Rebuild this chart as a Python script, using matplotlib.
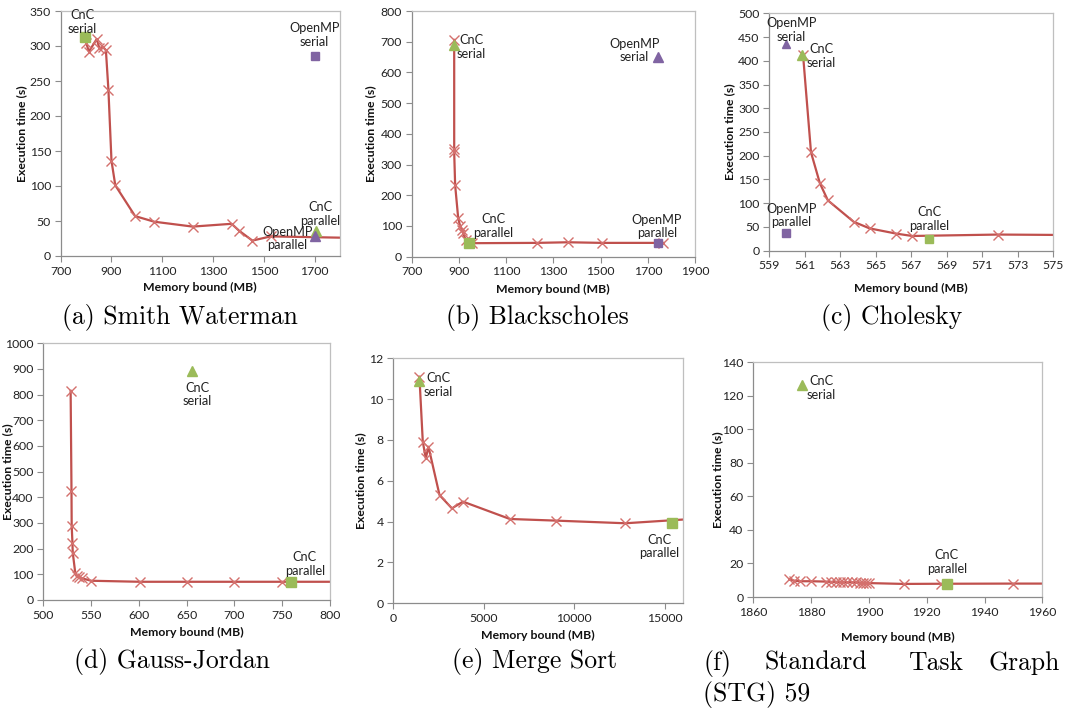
import matplotlib
matplotlib.use('Agg')
import matplotlib.pyplot as plt

# (a) Smith Waterman
sw_mem = [800, 811, 842, 852, 868, 878, 888, 900, 915, 993, 1068, 1220, 1373, 1403, 1455, 1527, 1830]
sw_time = [305, 292, 310, 297, 298, 294, 237, 136, 101, 57, 49, 42, 46, 36, 22, 28, 26]
sw_cnc_serial = (796, 313)
sw_cnc_parallel = (1706, 36)
sw_omp_serial = (1700, 286)
sw_omp_parallel = (1700, 29)

# (b) Blackscholes
bs_mem = [880, 880, 880, 884, 897, 905, 912, 918, 928, 955, 1229, 1363, 1505, 1766]
bs_time = [706, 350, 340, 233, 125, 100, 88, 76, 56, 44, 45, 47, 45, 45]
bs_cnc_serial = (881, 689)
bs_cnc_parallel = (943, 44)
bs_omp_serial = (1745, 649)
bs_omp_parallel = (1742, 43)

# (c) Cholesky
ch_mem = [560.9, 561.35, 561.85, 562.3, 563.75, 564.65, 566.15, 567.05, 571.9, 576]
ch_time = [413, 207, 142, 106, 61, 47, 36, 31, 34, 33]
ch_cnc_serial = (560.86, 412)
ch_cnc_parallel = (568.0, 25)
ch_omp_serial = (559.96, 435)
ch_omp_parallel = (559.96, 38)

# (d) Gauss-Jordan
gj_mem = [528.6, 529.5, 529.7, 530.5, 530.8, 533.5, 535, 537, 541, 550, 601, 650, 700, 750, 810]
gj_time = [815, 425, 290, 222, 185, 104, 92, 88, 84, 75, 71, 71, 71, 71, 71]
gj_cnc_serial = (656, 894)
gj_cnc_parallel = (759, 71)

# (e) Merge Sort
ms_mem = [1444, 1630, 1796, 1944, 2556, 3241, 3852, 6444, 8981, 12833, 16500]
ms_time = [11.1, 7.92, 7.1, 7.67, 5.3, 4.65, 4.98, 4.13, 4.05, 3.92, 4.13]
ms_cnc_serial = (1444, 10.9)
ms_cnc_parallel = (15407, 3.92)

# (f) STG 59
stg_mem = [1872.5, 1874, 1876, 1880, 1885, 1887, 1888.5, 1890, 1891, 1892.5, 1894,
           1895.5, 1897, 1898, 1899, 1900, 1912, 1925, 1950, 1965]
stg_time = [10.5, 9.8, 9.4, 9.4, 9.2, 9.0, 9.1, 9.0, 8.9, 8.8, 8.8,
            8.7, 8.6, 8.5, 8.4, 8.3, 7.8, 7.9, 8.0, 8.0]
stg_cnc_serial = (1877, 126.5)
stg_cnc_parallel = (1927, 7.8)

W, H = 1065, 709
SANS = ['Lato', 'DejaVu Sans']
RED, XRED = '#C0504D', '#D4706D'
GREEN, PURPLE = '#9BBB59', '#8064A2'

fig = plt.figure(figsize=(W / 100, H / 100), dpi=100)


def panel(box, mem, time, xlim, xticks, ylim, yticks, ylab_dx, xlab_dy):
    l, r, t, b = box
    ax = fig.add_axes([l / W, 1 - b / H, (r - l) / W, (b - t) / H])
    ax.plot(mem, time, color=RED, lw=1.6, marker='x', ms=7, mew=1.0,
            mec=XRED, zorder=2)
    ax.set_xlim(*xlim)
    ax.set_ylim(*ylim)
    ax.set_xticks(xticks)
    ax.set_yticks(yticks)
    for s in ax.spines.values():
        s.set_color('#BFBFBF')
        s.set_linewidth(0.9)
    ax.spines['left'].set_color('#8C8C8C')
    ax.spines['bottom'].set_color('#8C8C8C')
    ax.tick_params(direction='out', length=4, width=0.8, color='#8C8C8C',
                   labelsize=8.8, labelcolor='#222222', pad=3)
    for lab in ax.get_xticklabels() + ax.get_yticklabels():
        lab.set_family(SANS)
    ax.set_ylabel('Execution time (s)', family=SANS, fontsize=8.8,
                  fontweight='bold', color='#111111')
    ax.set_xlabel('Memory bound (MB)', family=SANS, fontsize=8.8,
                  fontweight='bold', color='#111111')
    ax.yaxis.set_label_coords(-ylab_dx / (r - l), 0.5)
    ax.xaxis.set_label_coords(0.5, -xlab_dy / (b - t))
    return ax


def point(ax, pt, marker, color, size):
    ax.plot([pt[0]], [pt[1]], marker=marker, color=color, ms=size,
            ls='none', zorder=3, clip_on=False)


def tag(ax, pt, text, dx, dy):
    ax.annotate(text, pt, xytext=(dx, dy), textcoords='offset pixels',
                ha='center', va='center', family=SANS, fontsize=9.2,
                linespacing=1.15, color='#222222')


# (a)
ax = panel((60.7, 340, 11, 256), sw_mem, sw_time, (700, 1800),
           range(700, 1701, 200), (0, 350), range(0, 351, 50), 34, 26)
point(ax, sw_cnc_serial, 's', GREEN, 7)
point(ax, sw_omp_serial, 's', PURPLE, 6)
point(ax, sw_cnc_parallel, '^', GREEN, 7)
point(ax, sw_omp_parallel, '^', PURPLE, 7)
tag(ax, sw_cnc_serial, 'CnC\nserial', -3, 15)
tag(ax, sw_omp_serial, 'OpenMP\nserial', 0, 21)
tag(ax, sw_cnc_parallel, 'CnC\nparallel', 4, 17)
tag(ax, sw_omp_parallel, 'OpenMP\nparallel', -27, -3)

# (b)
ax = panel((411.7, 695, 11, 256.7), bs_mem, bs_time, (700, 1900),
           range(700, 1901, 200), (0, 800), range(0, 801, 100), 36, 27)
point(ax, bs_cnc_serial, '^', GREEN, 7)
point(ax, bs_cnc_parallel, 's', GREEN, 7)
point(ax, bs_omp_serial, '^', PURPLE, 7)
point(ax, bs_omp_parallel, 's', PURPLE, 6)
tag(ax, bs_cnc_serial, 'CnC\nserial', 17, -2)
tag(ax, bs_cnc_parallel, 'CnC\nparallel', 24, 17)
tag(ax, bs_omp_serial, 'OpenMP\nserial', -24, 7)
tag(ax, bs_omp_parallel, 'OpenMP\nparallel', -1, 17)

# (c)
ax = panel((769.3, 1053.3, 13.3, 250.7), ch_mem, ch_time, (559, 575),
           range(559, 576, 2), (0, 500), range(0, 501, 50), 34, 32)
point(ax, ch_omp_serial, '^', PURPLE, 6)
point(ax, ch_cnc_serial, '^', GREEN, 7)
point(ax, ch_omp_parallel, 's', PURPLE, 6)
point(ax, ch_cnc_parallel, 's', GREEN, 6)
tag(ax, ch_omp_serial, 'OpenMP\nserial', 5, 14)
tag(ax, ch_cnc_serial, 'CnC\nserial', 19, -1)
tag(ax, ch_omp_parallel, 'OpenMP\nparallel', 5, 17)
tag(ax, ch_cnc_parallel, 'CnC\nparallel', 0, 20)

# (d)
ax = panel((43.3, 330, 343.3, 600), gj_mem, gj_time, (500, 800),
           range(500, 801, 50), (0, 1000), range(0, 1001, 100), 30, 27)
point(ax, gj_cnc_serial, '^', GREEN, 7)
point(ax, gj_cnc_parallel, 's', GREEN, 7)
tag(ax, gj_cnc_serial, 'CnC\nserial', 5, -24)
tag(ax, gj_cnc_parallel, 'CnC\nparallel', 14, 18)

# (e)
ax = panel((393.3, 682.7, 358.3, 603.3), ms_mem, ms_time, (0, 16000),
           range(0, 15001, 5000), (0, 12), range(0, 13, 2), 27, 27)
point(ax, ms_cnc_serial, '^', GREEN, 7)
point(ax, ms_cnc_parallel, 's', GREEN, 7)
tag(ax, ms_cnc_serial, 'CnC\nserial', 19, -4)
tag(ax, ms_cnc_parallel, 'CnC\nparallel', -13, -23)

# (f)
ax = panel((753.3, 1042.3, 362.3, 597), stg_mem, stg_time, (1860, 1960),
           range(1860, 1961, 20), (0, 140), range(0, 141, 20), 30, 35)
point(ax, stg_cnc_serial, '^', GREEN, 7)
point(ax, stg_cnc_parallel, 's', GREEN, 7)
tag(ax, stg_cnc_serial, 'CnC\nserial', 19, -3)
tag(ax, stg_cnc_parallel, 'CnC\nparallel', 0, 22)

# sub-figure captions
cap = dict(family='cmr10', fontsize=18.5, color='black', va='baseline')
for x, y, s in [(180, 324, '(a) Smith Waterman'), (537, 324, '(b) Blackscholes'),
                (892, 324, '(c) Cholesky'), (172, 668, '(d) Gauss-Jordan'),
                (535, 668, '(e) Merge Sort')]:
    fig.text(x / W, 1 - y / H, s, ha='center', **cap)
for x, s, ha in [(703, '(f)', 'left'), (765, 'Standard', 'left'),
                 (908, 'Task', 'left'), (1060, 'Graph', 'right')]:
    fig.text(x / W, 1 - 670 / H, s, ha=ha, **cap)
fig.text(703 / W, 1 - 701 / H, '(STG) 59', ha='left', **cap)

fig.savefig('out.png', dpi=100)
